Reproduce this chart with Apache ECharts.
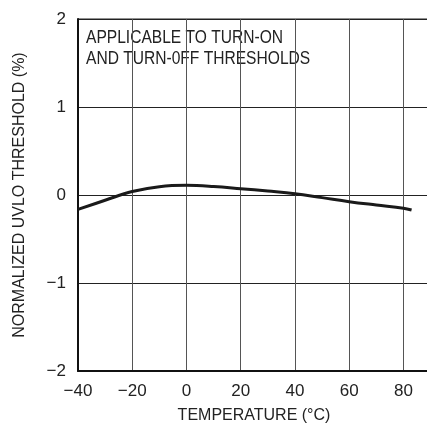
<!DOCTYPE html>
<html>
<head>
<meta charset="utf-8">
<script src="https://cdn.jsdelivr.net/npm/echarts@6/dist/echarts.min.js"></script>
<style>
  html, body { margin: 0; padding: 0; background: #fff; }
  #chart { width: 427px; height: 423px; }
</style>
</head>
<body>
<div id="chart"></div>
<script>
// Temperature (°C) and normalized UVLO threshold shift (%)
const temperature = [-40, -30, -20, -10, 0, 10, 20, 30, 40, 50, 60, 70, 80, 83];
const thresholdPct = [-0.163, -0.06, 0.04, 0.095, 0.11, 0.097, 0.072, 0.045, 0.015, -0.03, -0.076, -0.114, -0.15, -0.17];
const xTicks = [-40, -20, 0, 20, 40, 60, 80];
const yTicks = [-2, -1, 0, 1, 2];
const noteLines = ['APPLICABLE TO TURN-ON', 'AND TURN-0FF THRESHOLDS'];

const FONT = '"Liberation Sans Narrow", "Liberation Sans", Arial, sans-serif';
const minus = v => (v < 0 ? '\u2212' + Math.abs(v) : String(v));

const chart = echarts.init(document.getElementById('chart'), null, { renderer: 'canvas' });
chart.setOption({
  animation: false,
  backgroundColor: '#fff',
  // plot runs past the right edge of the canvas, so only the top frame line shows
  grid: {
    left: 78, width: 352, top: 19, bottom: 52,
    outerBoundsMode: 'none', containLabel: false,
    show: true, borderColor: '#222', borderWidth: 1
  },
  xAxis: {
    type: 'value', min: -40, max: 89.8, interval: 20,
    axisLine: { show: true, onZero: false, lineStyle: { color: '#111', width: 2 } },
    axisTick: { show: false },
    axisLabel: {
      color: '#222', fontFamily: FONT, fontSize: 17, margin: 12,
      formatter: v => (xTicks.includes(v) ? minus(v) : '')
    },
    splitLine: { show: true, lineStyle: { color: '#555', width: 1 } },
    name: 'TEMPERATURE (°C)', nameLocation: 'middle', nameGap: 37,
    nameTextStyle: { color: '#222', fontFamily: FONT, fontSize: 16 }
  },
  yAxis: {
    type: 'value', min: -2, max: 2, interval: 1,
    axisLine: { show: true, onZero: false, lineStyle: { color: '#111', width: 2 } },
    axisTick: { show: false },
    axisLabel: {
      color: '#222', fontFamily: FONT, fontSize: 17, margin: 12,
      formatter: v => (yTicks.includes(v) ? minus(v) : '')
    },
    splitLine: { show: true, lineStyle: { color: '#222', width: 1 } },
    name: 'NORMALIZED UVLO THRESHOLD (%)', nameLocation: 'middle', nameGap: 50,
    nameTextStyle: { color: '#222', fontFamily: FONT, fontSize: 16 }
  },
  series: [{
    type: 'line',
    data: temperature.map((t, i) => [t, thresholdPct[i]]),
    smooth: 0.4,
    symbol: 'none',
    lineStyle: { color: '#1a1a1a', width: 3 },
    z: 3
  }],
  graphic: [{
    type: 'group', left: 79, top: 20, z: 10,
    children: [
      { type: 'rect', shape: { x: 0, y: 0, width: 241, height: 51 }, style: { fill: '#fff' } },
      {
        type: 'text', x: 7, y: 7, scaleX: 0.82,
        style: {
          text: noteLines.join('\n'), fill: '#222', font: '19px ' + FONT, lineHeight: 21
        }
      }
    ]
  }]
});
</script>
</body>
</html>
